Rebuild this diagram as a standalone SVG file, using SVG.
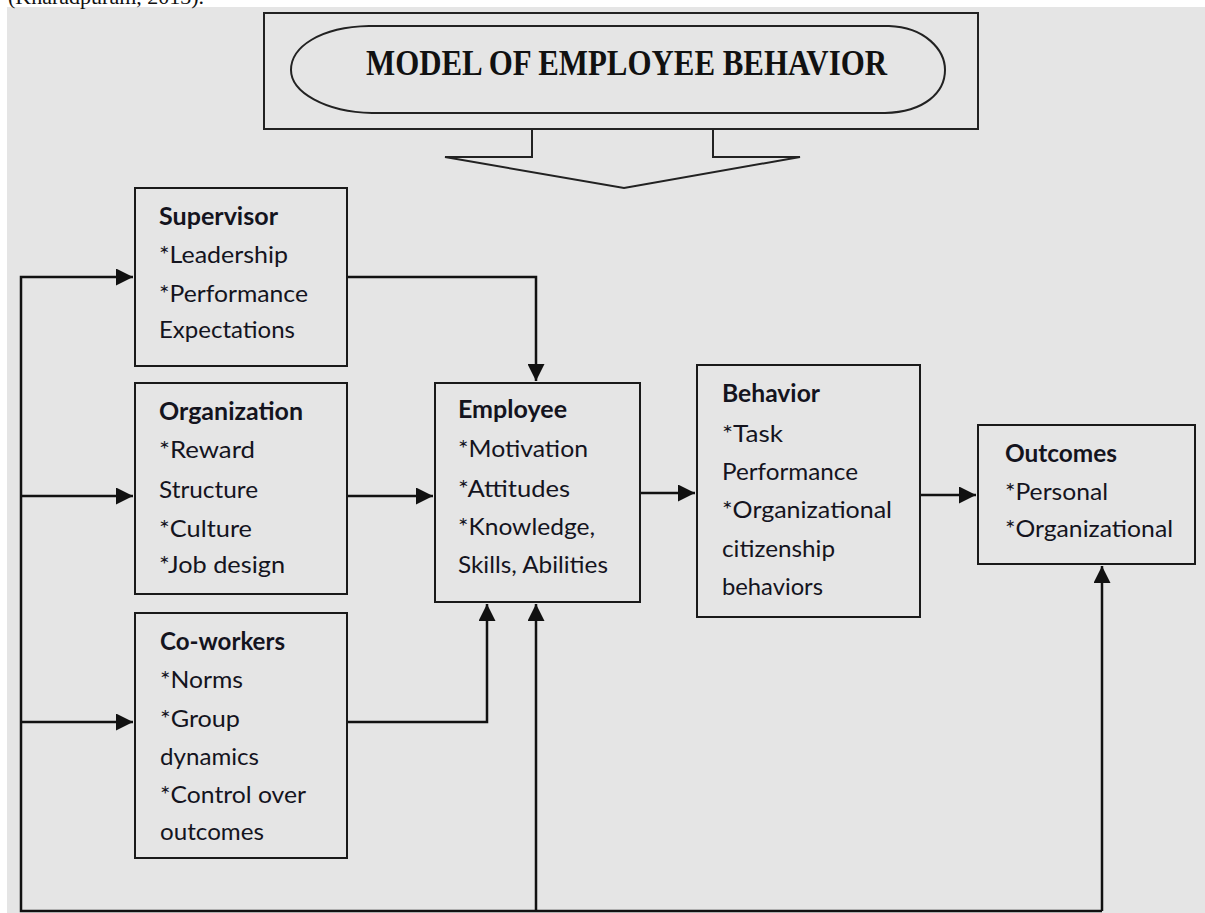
<svg xmlns="http://www.w3.org/2000/svg" width="1205" height="913" viewBox="0 0 1205 913">
  <style>
    .box { fill: #e5e5e5; stroke: #1a1a1a; stroke-width: 2; }
    .hd { font-family: Lato, "Open Sans", sans-serif; font-size: 24px; font-weight: bold; fill: #14141e; }
    .tx { font-family: Lato, "Open Sans", sans-serif; font-size: 24px; fill: #14141e; }
    .wire { fill: none; stroke: #111; stroke-width: 2.5; }
    .title { font-family: "Liberation Serif", serif; font-size: 36px; font-weight: bold; fill: #111; }
  </style>
  <defs>
    <marker id="tip" markerUnits="userSpaceOnUse" viewBox="0 0 10 10" markerWidth="18" markerHeight="17" refX="10" refY="5" orient="auto">
      <path d="M0,0 L10,5 L0,10 Z" fill="#111"/>
    </marker>
  </defs>

  <!-- page -->
  <rect x="0" y="0" width="1205" height="913" fill="#ffffff"/>
  <rect x="7" y="7" width="1198" height="906" fill="#e5e5e5"/>
  <text x="8" y="4" font-family="Liberation Serif, serif" font-size="22" fill="#111">(Kharadpuram, 2013).</text>

  <!-- title banner with down arrow -->
  <g id="title">
    <path d="M264,13 H978 V129 H713 V157 H800 L624,188 L445,157 H532 V129 H264 Z" fill="#e5e5e5" stroke="#222" stroke-width="2"/>
    <line x1="532" y1="129" x2="713" y2="129" stroke="#222" stroke-width="2"/>
    <path d="M369,26 L889,26 C925,27 945,50 945,70 C945,92 925,112 885,113 L372,113 C325,112 291,92 291,70 C291,47 320,27 369,26 Z" fill="none" stroke="#222" stroke-width="2"/>
    <text class="title" x="366" y="75" textLength="521" lengthAdjust="spacingAndGlyphs">MODEL OF EMPLOYEE BEHAVIOR</text>
  </g>

  <!-- connectors -->
  <g id="connectors">
    <path class="wire" d="M1102,911 V566" marker-end="url(#tip)"/>
    <path class="wire" d="M1102,911 H21 V277 H133" marker-end="url(#tip)"/>
    <path class="wire" d="M21,496 H133" marker-end="url(#tip)"/>
    <path class="wire" d="M21,722 H133" marker-end="url(#tip)"/>
    <path class="wire" d="M536,911 V604" marker-end="url(#tip)"/>
    <path class="wire" d="M347,277 H536 V381" marker-end="url(#tip)"/>
    <path class="wire" d="M347,496 H433" marker-end="url(#tip)"/>
    <path class="wire" d="M347,722 H487 V604" marker-end="url(#tip)"/>
    <path class="wire" d="M640,493 H695" marker-end="url(#tip)"/>
    <path class="wire" d="M920,495 H976" marker-end="url(#tip)"/>
  </g>

  <g id="supervisor">
    <rect class="box" x="135" y="188" width="212" height="178"/>
    <text class="hd" x="159" y="225" textLength="119" lengthAdjust="spacingAndGlyphs">Supervisor</text>
    <text class="tx" x="159" y="263" textLength="129" lengthAdjust="spacingAndGlyphs">*Leadership</text>
    <text class="tx" x="159" y="302" textLength="149" lengthAdjust="spacingAndGlyphs">*Performance</text>
    <text class="tx" x="159" y="338" textLength="136" lengthAdjust="spacingAndGlyphs">Expectations</text>
  </g>

  <g id="organization">
    <rect class="box" x="135" y="383" width="212" height="211"/>
    <text class="hd" x="159" y="420" textLength="144" lengthAdjust="spacingAndGlyphs">Organization</text>
    <text class="tx" x="159" y="458" textLength="96" lengthAdjust="spacingAndGlyphs">*Reward</text>
    <text class="tx" x="159" y="498" textLength="99" lengthAdjust="spacingAndGlyphs">Structure</text>
    <text class="tx" x="159" y="537" textLength="93" lengthAdjust="spacingAndGlyphs">*Culture</text>
    <text class="tx" x="159" y="573" textLength="126" lengthAdjust="spacingAndGlyphs">*Job design</text>
  </g>

  <g id="coworkers">
    <rect class="box" x="135" y="613" width="212" height="245"/>
    <text class="hd" x="160" y="650" textLength="125" lengthAdjust="spacingAndGlyphs">Co-workers</text>
    <text class="tx" x="160" y="688" textLength="83" lengthAdjust="spacingAndGlyphs">*Norms</text>
    <text class="tx" x="160" y="727" textLength="80" lengthAdjust="spacingAndGlyphs">*Group</text>
    <text class="tx" x="160" y="765" textLength="99" lengthAdjust="spacingAndGlyphs">dynamics</text>
    <text class="tx" x="160" y="803" textLength="146" lengthAdjust="spacingAndGlyphs">*Control over</text>
    <text class="tx" x="160" y="840" textLength="104" lengthAdjust="spacingAndGlyphs">outcomes</text>
  </g>

  <g id="employee">
    <rect class="box" x="435" y="383" width="205" height="219"/>
    <text class="hd" x="458" y="418" textLength="109" lengthAdjust="spacingAndGlyphs">Employee</text>
    <text class="tx" x="458" y="457" textLength="130" lengthAdjust="spacingAndGlyphs">*Motivation</text>
    <text class="tx" x="458" y="497" textLength="112" lengthAdjust="spacingAndGlyphs">*Attitudes</text>
    <text class="tx" x="458" y="535" textLength="137" lengthAdjust="spacingAndGlyphs">*Knowledge,</text>
    <text class="tx" x="458" y="573" textLength="150" lengthAdjust="spacingAndGlyphs">Skills, Abilities</text>
  </g>

  <g id="behavior">
    <rect class="box" x="697" y="365" width="223" height="252"/>
    <text class="hd" x="722" y="402" textLength="98" lengthAdjust="spacingAndGlyphs">Behavior</text>
    <text class="tx" x="722" y="442" textLength="61" lengthAdjust="spacingAndGlyphs">*Task</text>
    <text class="tx" x="722" y="480" textLength="136" lengthAdjust="spacingAndGlyphs">Performance</text>
    <text class="tx" x="722" y="518" textLength="170" lengthAdjust="spacingAndGlyphs">*Organizational</text>
    <text class="tx" x="722" y="557" textLength="113" lengthAdjust="spacingAndGlyphs">citizenship</text>
    <text class="tx" x="722" y="595" textLength="101" lengthAdjust="spacingAndGlyphs">behaviors</text>
  </g>

  <g id="outcomes">
    <rect class="box" x="978" y="425" width="217" height="139"/>
    <text class="hd" x="1005" y="462" textLength="112" lengthAdjust="spacingAndGlyphs">Outcomes</text>
    <text class="tx" x="1005" y="500" textLength="103" lengthAdjust="spacingAndGlyphs">*Personal</text>
    <text class="tx" x="1005" y="537" textLength="168" lengthAdjust="spacingAndGlyphs">*Organizational</text>
  </g>
</svg>
